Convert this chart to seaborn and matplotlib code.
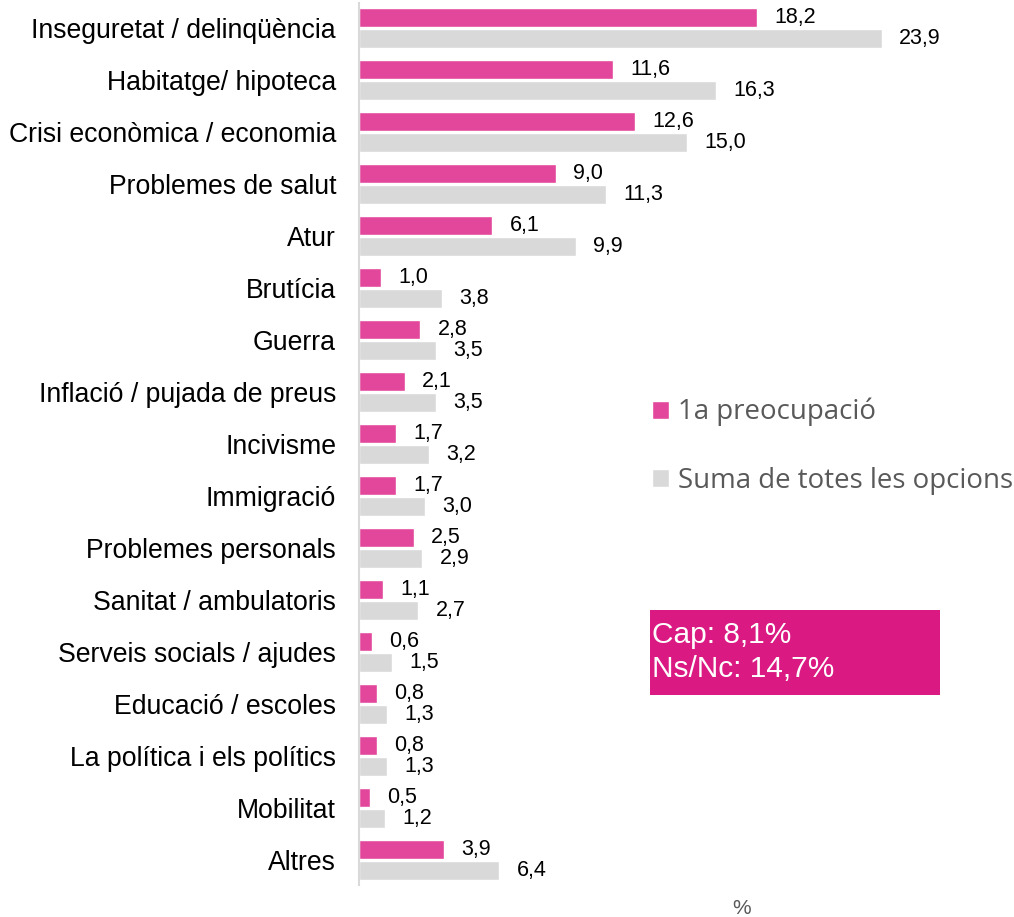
import matplotlib
matplotlib.use("Agg")
import matplotlib.pyplot as plt
import seaborn as sns
import pandas as pd

categories = ["Inseguretat / delinqüència", "Habitatge/ hipoteca", "Crisi econòmica / economia",
              "Problemes de salut", "Atur", "Brutícia", "Guerra", "Inflació / pujada de preus",
              "Incivisme", "Immigració", "Problemes personals", "Sanitat / ambulatoris",
              "Serveis socials / ajudes", "Educació / escoles", "La política i els polítics",
              "Mobilitat", "Altres"]
first_concern = [18.2, 11.6, 12.6, 9.0, 6.1, 1.0, 2.8, 2.1, 1.7, 1.7, 2.5, 1.1, 0.6, 0.8, 0.8, 0.5, 3.9]
all_options = [23.9, 16.3, 15.0, 11.3, 9.9, 3.8, 3.5, 3.5, 3.2, 3.0, 2.9, 2.7, 1.5, 1.3, 1.3, 1.2, 6.4]
series_names = ["1a preocupació", "Suma de totes les opcions"]
box_lines = ["Cap: 8,1%", "Ns/Nc: 14,7%"]

sns.set_theme(style="white")
plt.rcParams['font.family'] = ['Liberation Sans', 'DejaVu Sans']

df = pd.DataFrame({
    "cat": categories * 2,
    "val": first_concern + all_options,
    "serie": [series_names[0]] * len(categories) + [series_names[1]] * len(categories),
})

W, H = 1014, 917
fig = plt.figure(figsize=(W / 100, H / 100), dpi=100)
ax = fig.add_axes([359 / W, 32 / H, 634.5 / W, 882 / H])

pink = "#E2479B"
grey = "#D9D9D9"
sns.barplot(data=df, y="cat", x="val", hue="serie", orient="h",
            palette=[pink, grey], width=0.8, gap=0.1, errorbar=None, ax=ax,
            saturation=1, legend=True)

ax.set_xlim(0, 29)
ax.set_ylim(len(categories) - 0.52, -0.48)
ax.set_xlabel("")
ax.set_ylabel("")
ax.set_xticks([])
ax.tick_params(axis="y", length=0, pad=16.5, labelsize=19.2, labelcolor="#000000")
for s in ["top", "right", "bottom"]:
    ax.spines[s].set_visible(False)
ax.spines["left"].set_color("#D9D9D9")
ax.spines["left"].set_linewidth(1.5)

for cont in ax.containers:
    labels = [f"{v:.1f}".replace(".", ",") for v in cont.datavalues]
    ax.bar_label(cont, labels=labels, padding=12.5, fontsize=15.5, color="#000000")

handles, labs = ax.get_legend_handles_labels()
ax.legend(handles, labs, loc="upper left", bbox_to_anchor=(652 / W, 1 - 398 / H),
          bbox_transform=fig.transFigure, frameon=False,
          prop={"family": "Open Sans", "size": 19.9}, labelcolor="#595959",
          handlelength=0.62, handleheight=0.62, handletextpad=0.33, labelspacing=1.45,
          borderpad=0, borderaxespad=0)

fig.patches.append(plt.Rectangle((650 / W, 1 - 695 / H), 290 / W, 85 / H,
                                 transform=fig.transFigure, facecolor="#DA1A82",
                                 edgecolor="none", zorder=0))
fig.text(652 / W, 1 - 643 / H, box_lines[0], color="white", fontsize=21.5,
         va="baseline", ha="left")
fig.text(652 / W, 1 - 677 / H, box_lines[1], color="white", fontsize=21.5,
         va="baseline", ha="left")

fig.text(742 / W, 1 - 908 / H, "%", color="#595959", fontsize=15, ha="center", va="center")

fig.savefig("out.png", dpi=100)
